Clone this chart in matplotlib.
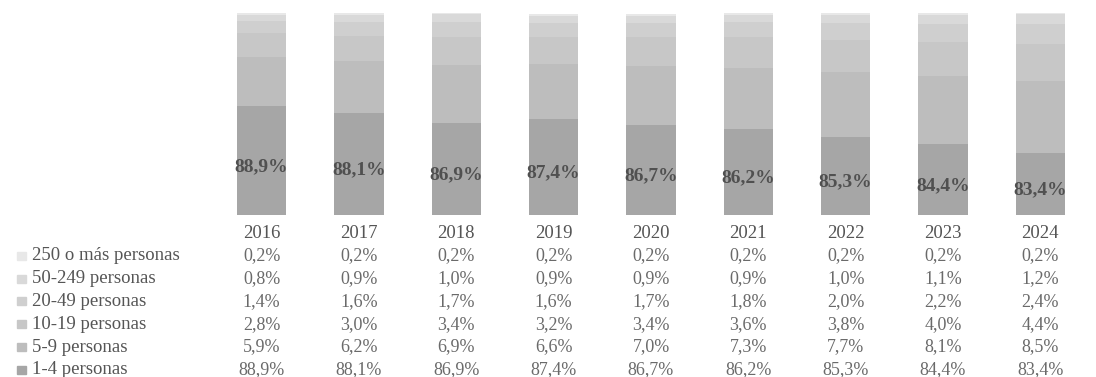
import numpy as np
import matplotlib
matplotlib.use("Agg")
import matplotlib.pyplot as plt
from matplotlib.transforms import blended_transform_factory

# ---- DATA ----
years = ["2016", "2017", "2018", "2019", "2020", "2021", "2022", "2023", "2024"]
categories = ["1-4 personas", "5-9 personas", "10-19 personas",
              "20-49 personas", "50-249 personas", "250 o más personas"]
p_1_4 = [88.9, 88.1, 86.9, 87.4, 86.7, 86.2, 85.3, 84.4, 83.4]
p_5_9 = [5.9, 6.2, 6.9, 6.6, 7.0, 7.3, 7.7, 8.1, 8.5]
p_10_19 = [2.8, 3.0, 3.4, 3.2, 3.4, 3.6, 3.8, 4.0, 4.4]
p_20_49 = [1.4, 1.6, 1.7, 1.6, 1.7, 1.8, 2.0, 2.2, 2.4]
p_50_249 = [0.8, 0.9, 1.0, 0.9, 0.9, 0.9, 1.0, 1.1, 1.2]
p_250 = [0.2, 0.2, 0.2, 0.2, 0.2, 0.2, 0.2, 0.2, 0.2]

series = [p_1_4, p_5_9, p_10_19, p_20_49, p_50_249, p_250]
colors = ["#a6a6a6", "#bdbdbd", "#c7c7c7", "#cfcfcf", "#d9d9d9", "#e8e8e8"]
y_min = 76

plt.rcParams["font.family"] = ["Liberation Serif", "DejaVu Serif"]

fig = plt.figure(figsize=(10.96, 3.77), dpi=100)
ax = fig.add_axes([213 / 1096, 1 - 215 / 377, 876 / 1096, 202 / 377])

x = np.arange(len(years))
bottom = np.zeros(len(years))
for vals, col in zip(series, colors):
    ax.bar(x, vals, bottom=bottom, width=0.51, color=col, edgecolor="none")
    bottom += np.array(vals)

# labels on the big segment
for xi, v in zip(x, p_1_4):
    ax.text(xi, (y_min + v) / 2 - 0.7, f"{v:.1f}%".replace(".", ","),
            ha="center", va="center", fontsize=14, fontweight="bold",
            color="#505050")

ax.set_xlim(-0.5, len(years) - 0.5)
ax.set_ylim(y_min, 100)
ax.axis("off")

# ---- DATA TABLE ----
tr = blended_transform_factory(ax.transData, fig.transFigure)
row_h = 22.8
y0 = 377 - 233
for xi, yr in zip(x, years):
    fig.text(xi, y0 / 377, yr, transform=tr, ha="center", va="center",
             fontsize=13.5, color="#555555")

rows = list(zip(categories, series, colors))[::-1]
for i, (name, vals, col) in enumerate(rows):
    yy = (y0 - row_h * (i + 1)) / 377
    fig.text(32 / 1096, yy, name, ha="left", va="center", fontsize=13.5,
             color="#555555")
    fig.patches.append(plt.Rectangle((17 / 1096, yy - 4 / 377), 9 / 1096, 8 / 377,
                                     transform=fig.transFigure, color=col,
                                     figure=fig))
    for xi, v in zip(x, vals):
        fig.text(xi, yy, f"{v:.1f}%".replace(".", ","), transform=tr,
                 ha="center", va="center", fontsize=13, color="#6a6a6a")

plt.savefig("out.png", dpi=100)
